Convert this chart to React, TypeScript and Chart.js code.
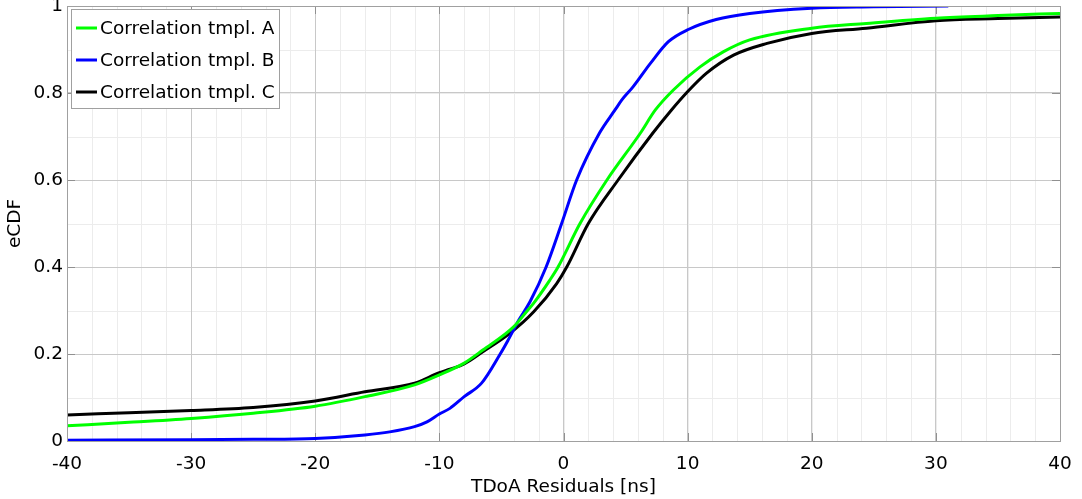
import React, { useEffect, useRef } from "react";
import { Chart, registerables } from "chart.js";

Chart.register(...registerables);

const seriesLabels = ["Correlation tmpl. A", "Correlation tmpl. B", "Correlation tmpl. C"];
const seriesColors = ["#00ff00", "#0000ff", "#000000"];

const xA = [-40, -35, -30, -25, -20, -16, -12, -10, -8, -6.5, -4.0, -2.9, -2.4, -1.1, -0.44, 1.33, 3.5, 6.2, 7.4, 8.85, 11.0, 12.9, 15.0, 20, 24.4, 30, 35, 40];
const yA = [0.035, 0.043, 0.052, 0.064, 0.080, 0.102, 0.129, 0.152, 0.179, 0.209, 0.263, 0.300, 0.317, 0.370, 0.400, 0.500, 0.600, 0.708, 0.761, 0.807, 0.860, 0.895, 0.922, 0.949, 0.960, 0.972, 0.978, 0.983];

const xB = [-40, -30, -25, -20, -16, -14, -12, -11, -10, -9.15, -8, -6.6, -5.1, -4.5, -3.6, -2.7, -1.4, -0.15, 1.06, 2.9, 4.15, 4.7, 5.6, 7.0, 8.45, 10.05, 12.3, 15, 20, 25, 31];
const yB = [0.002, 0.003, 0.004, 0.006, 0.014, 0.021, 0.033, 0.044, 0.062, 0.075, 0.102, 0.133, 0.200, 0.230, 0.278, 0.320, 0.400, 0.500, 0.600, 0.708, 0.761, 0.784, 0.814, 0.868, 0.918, 0.946, 0.969, 0.983, 0.995, 0.998, 1.0];

const xC = [-40, -35, -30, -25, -20, -16, -12, -10, -9.15, -8, -6.5, -4.3, -2.4, -0.55, 0.26, 2.0, 4.4, 7.2, 8.7, 9.9, 11.5, 13.7, 16.4, 20, 24.4, 30, 35, 40];
const yC = [0.060, 0.065, 0.070, 0.077, 0.092, 0.113, 0.133, 0.157, 0.165, 0.177, 0.205, 0.248, 0.297, 0.362, 0.400, 0.500, 0.600, 0.708, 0.761, 0.800, 0.845, 0.887, 0.914, 0.937, 0.949, 0.966, 0.971, 0.975];

const xTicks = [-40, -30, -20, -10, 0, 10, 20, 30, 40];
const yTicks = [0, 0.2, 0.4, 0.6, 0.8, 1];
const xMinorStep = 2;
const yMinorStep = 0.1;
const xTitle = "TDoA Residuals [ns]";
const yTitle = "eCDF";

const FONT = "'DejaVu Sans', sans-serif";
const FS = 18.5;

function pts(xs: number[], ys: number[]) {
  return xs.map((x, i) => ({ x, y: ys[i] }));
}

const minorGridPlugin = {
  id: "minorGrid",
  beforeDraw(chart: any) {
    const { ctx, chartArea: a, scales } = chart;
    const xs = scales.x, ys = scales.y;
    ctx.save();
    ctx.strokeStyle = "#ececec";
    ctx.lineWidth = 1;
    for (let v = xs.min; v <= xs.max + 1e-9; v += xMinorStep) {
      const px = Math.round(xs.getPixelForValue(v)) + 0.5;
      ctx.beginPath(); ctx.moveTo(px, a.top); ctx.lineTo(px, a.bottom); ctx.stroke();
    }
    for (let v = ys.min; v <= ys.max + 1e-9; v += yMinorStep) {
      const py = Math.round(ys.getPixelForValue(v)) + 0.5;
      ctx.beginPath(); ctx.moveTo(a.left, py); ctx.lineTo(a.right, py); ctx.stroke();
    }
    ctx.restore();
  },
  beforeDatasetsDraw(chart: any) {
    const { ctx, chartArea: a, scales } = chart;
    ctx.save();
    ctx.strokeStyle = "#909090";
    ctx.lineWidth = 1;
    const L = 8;
    xTicks.forEach((v) => {
      const px = Math.round(scales.x.getPixelForValue(v)) + 0.5;
      ctx.beginPath(); ctx.moveTo(px, a.bottom); ctx.lineTo(px, a.bottom - L); ctx.stroke();
      ctx.beginPath(); ctx.moveTo(px, a.top); ctx.lineTo(px, a.top + L); ctx.stroke();
    });
    yTicks.forEach((v) => {
      const py = Math.round(scales.y.getPixelForValue(v)) + 0.5;
      ctx.beginPath(); ctx.moveTo(a.left, py); ctx.lineTo(a.left + L, py); ctx.stroke();
      ctx.beginPath(); ctx.moveTo(a.right, py); ctx.lineTo(a.right - L, py); ctx.stroke();
    });
    ctx.restore();
  },
};

const frameLegendPlugin = {
  id: "frameLegend",
  afterDraw(chart: any) {
    const { ctx, chartArea: a } = chart;
    ctx.save();
    ctx.strokeStyle = "#a0a0a0";
    ctx.lineWidth = 1;
    ctx.strokeRect(Math.round(a.left) + 0.5, Math.round(a.top) + 0.5, Math.round(a.right - a.left), Math.round(a.bottom - a.top));
    const bx = a.left + 4, by = a.top + 3, bw = 208, bh = 99;
    ctx.fillStyle = "#ffffff";
    ctx.fillRect(bx, by, bw, bh);
    ctx.strokeStyle = "#a0a0a0";
    ctx.strokeRect(Math.round(bx) + 0.5, Math.round(by) + 0.5, bw, bh);
    ctx.font = `${FS}px ${FONT}`;
    ctx.textBaseline = "middle";
    ctx.textAlign = "left";
    chart.data.datasets.forEach((ds: any, i: number) => {
      const cy = by + 19 + i * 32;
      ctx.strokeStyle = ds.borderColor;
      ctx.lineWidth = 3;
      ctx.beginPath(); ctx.moveTo(bx + 5, cy); ctx.lineTo(bx + 26, cy); ctx.stroke();
      ctx.fillStyle = "#000";
      ctx.fillText(ds.label, bx + 29, cy + 1);
    });
    ctx.restore();
  },
};

export default function App() {
  const ref = useRef<HTMLCanvasElement>(null);
  useEffect(() => {
    if (!ref.current) return;
    const datasets = [pts(xA, yA), pts(xB, yB), pts(xC, yC)].map((d, i) => ({
      label: seriesLabels[i],
      data: d,
      borderColor: seriesColors[i],
      backgroundColor: seriesColors[i],
      borderWidth: 3,
      pointRadius: 0,
      cubicInterpolationMode: "monotone" as const,
      fill: false,
    }));
    const chart = new Chart(ref.current, {
      type: "line",
      data: { datasets },
      options: {
        responsive: false,
        animation: false,
        layout: { padding: { top: 6, right: 22, left: 0, bottom: 0 } },
        plugins: { legend: { display: false }, tooltip: { enabled: false } },
        scales: {
          x: {
            type: "linear",
            min: -40,
            max: 40,
            afterBuildTicks: (s: any) => { s.ticks = xTicks.map((v) => ({ value: v })); },
            afterFit: (s: any) => { s.height = 58; s.paddingLeft = 0; s.paddingRight = 0; },
            grid: { color: "#c8c8c8", drawTicks: false },
            border: { display: false },
            ticks: { color: "#000", font: { family: FONT, size: FS }, padding: 12, maxRotation: 0, callback: (v: any) => String(v) },
            title: { display: true, text: xTitle, color: "#000", font: { family: FONT, size: FS }, padding: { top: 0, bottom: 1 } },
          },
          y: {
            type: "linear",
            min: 0,
            max: 1,
            afterBuildTicks: (s: any) => { s.ticks = yTicks.map((v) => ({ value: v })); },
            afterFit: (s: any) => { s.width = 67; s.paddingTop = 0; s.paddingBottom = 0; },
            grid: { color: "#c8c8c8", drawTicks: false },
            border: { display: false },
            ticks: { color: "#000", font: { family: FONT, size: FS }, padding: 4, callback: (v: any) => String(Number(v.toFixed(1))) },
            title: { display: true, text: yTitle, color: "#000", font: { family: FONT, size: FS }, padding: { top: 4, bottom: 0 } },
          },
        },
      },
      plugins: [minorGridPlugin, frameLegendPlugin],
    });
    return () => chart.destroy();
  }, []);
  return (
    <div style={{ position: "fixed", left: 0, top: 0, width: 1082, height: 499, background: "#fff" }}>
      <canvas ref={ref} width={1082} height={499} />
    </div>
  );
}
